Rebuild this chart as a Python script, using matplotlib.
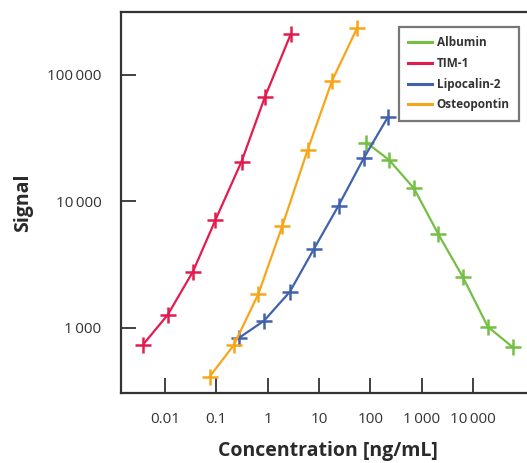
import numpy as np
import matplotlib.pyplot as plt
from matplotlib.ticker import FixedLocator, NullLocator

# concentrations (ng/mL) and signals
tim1_conc = [0.0037, 0.0113, 0.035, 0.096, 0.31, 0.88, 2.8]
tim1_sig = [735, 1270, 2790, 7140, 20700, 66700, 209000]

opn_conc = [0.074, 0.22, 0.66, 1.94, 6.0, 18, 55]
opn_sig = [412, 735, 1860, 6440, 25500, 90200, 234000]

lcn2_conc = [0.28, 0.85, 2.7, 7.9, 24, 74, 222]
lcn2_sig = [838, 1140, 1930, 4190, 9270, 21900, 46800]

alb_conc = [84, 232, 708, 2120, 6280, 19400, 60000]
alb_sig = [29200, 21300, 12700, 5500, 2550, 1024, 703]

xticks = [0.01, 0.1, 1, 10, 100, 1000, 10000]
xticklabels = ['0.01', '0.1', '1', '10', '100', '1\u2009000', '10\u2009000']
yticks = [1000, 10000, 100000]
yticklabels = ['1\u2009000', '10\u2009000', '100\u2009000']

series = [
    ('Albumin', alb_conc, alb_sig, '#74bf44'),
    ('TIM-1', tim1_conc, tim1_sig, '#e31c4f'),
    ('Lipocalin-2', lcn2_conc, lcn2_sig, '#4262ad'),
    ('Osteopontin', opn_conc, opn_sig, '#f8a51b'),
]

plt.rcParams['font.family'] = ['Open Sans', 'DejaVu Sans']

fig = plt.figure(figsize=(5.27, 4.63), dpi=100)
ax = fig.add_axes([121 / 527, 70 / 463, 414 / 527, 381 / 463])

handles = []
for name, x, y, c in series:
    ax.plot(x, y, color=c, lw=1.6, marker='+', ms=12, mew=1.8, clip_on=False)
    h, = ax.plot([], [], color=c, lw=2.2, label=name)
    handles.append(h)

ax.set_xscale('log')
ax.set_yscale('log')
ax.set_xlim(10 ** -2.857, 10 ** 5.208)
ax.set_ylim(10 ** 2.486, 10 ** 5.498)

ax.xaxis.set_major_locator(FixedLocator(xticks))
ax.xaxis.set_minor_locator(NullLocator())
ax.yaxis.set_major_locator(FixedLocator(yticks))
ax.yaxis.set_minor_locator(NullLocator())
ax.set_xticklabels(xticklabels)
ax.set_yticklabels(yticklabels)
ax.tick_params(direction='in', length=11, width=1.3, colors='#333333',
               labelsize=11, labelcolor='#333333')
ax.tick_params(axis='x', pad=14)
ax.tick_params(axis='y', pad=14)

for s in ax.spines.values():
    s.set_linewidth(1.6)
    s.set_color('#333333')
ax.spines['right'].set_visible(False)

ax.set_xlabel('Concentration [ng/mL]', fontsize=14, fontweight='bold',
              color='#2a2a2a', labelpad=10)
ax.set_ylabel('Signal', fontsize=14, fontweight='bold', color='#2a2a2a',
              labelpad=10)

leg = ax.legend(handles=handles, loc='upper left',
                bbox_to_anchor=((399 - 121) / 414, (393 - 27) / 381),
                borderaxespad=0, frameon=True, fancybox=False,
                edgecolor='#555555', handlelength=2.0, handletextpad=0.4,
                labelspacing=0.65, borderpad=0.8,
                prop={'size': 8.5, 'weight': 'bold'})
leg.get_frame().set_linewidth(1.6)
for t in leg.get_texts():
    t.set_color('#333333')

fig.savefig('out.png', dpi=100)
